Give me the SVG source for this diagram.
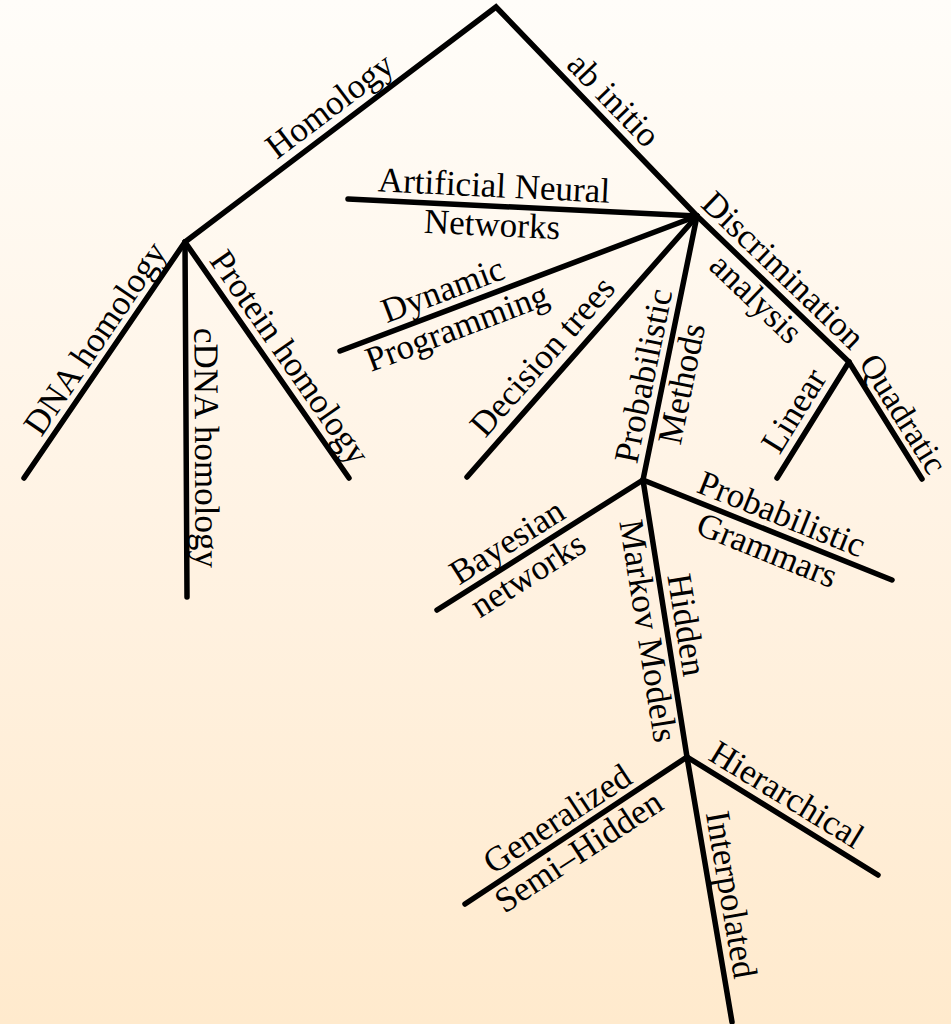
<svg xmlns="http://www.w3.org/2000/svg" width="951" height="1024" viewBox="0 0 951 1024">
<defs>
<linearGradient id="bg" x1="0" y1="0" x2="0" y2="1">
<stop offset="0" stop-color="#fffdf9"/>
<stop offset="0.5" stop-color="#fff3e4"/>
<stop offset="1" stop-color="#ffeacd"/>
</linearGradient>
<style>
.e{stroke:#000;stroke-width:5.5;fill:none;stroke-linecap:round;stroke-linejoin:miter}
text{font-family:"Liberation Serif","Times New Roman",serif;font-size:35px;fill:#000;text-anchor:middle}
</style>
</defs>
<rect width="951" height="1024" fill="url(#bg)"/>
<g id="connectors">
<path class="e" d="M185,242 L496,7 L697,216"/>
<line class="e" x1="348" y1="199" x2="697" y2="216"/>
<line class="e" x1="340" y1="351" x2="697" y2="216"/>
<line class="e" x1="467" y1="477" x2="697" y2="216"/>
<line class="e" x1="643" y1="480" x2="697" y2="216"/>
<line class="e" x1="697" y1="216" x2="849" y2="362"/>
<line class="e" x1="849" y1="362" x2="777" y2="478"/>
<line class="e" x1="849" y1="362" x2="922" y2="479"/>
<line class="e" x1="185" y1="242" x2="24" y2="478"/>
<line class="e" x1="185" y1="242" x2="187" y2="597"/>
<line class="e" x1="185" y1="242" x2="349" y2="478"/>
<line class="e" x1="643" y1="480" x2="437" y2="610"/>
<line class="e" x1="643" y1="480" x2="892" y2="580"/>
<line class="e" x1="643" y1="480" x2="687" y2="757"/>
<line class="e" x1="687" y1="757" x2="878" y2="875"/>
<line class="e" x1="687" y1="757" x2="465" y2="904"/>
<line class="e" x1="687" y1="757" x2="732" y2="1022"/>
</g>
<g id="homology"><text transform="translate(342,122) rotate(-37.1)" y="-9">Homology</text></g>
<g id="ab-initio"><text transform="translate(599,114) rotate(46)" y="-9">ab initio</text></g>
<g id="ann"><g transform="translate(493,206) rotate(2.8)"><text y="-9">Artificial Neural</text><text y="30">Networks</text></g></g>
<g id="dp"><g transform="translate(450,309) rotate(-20.7)"><text y="-9">Dynamic</text><text y="31">Programming</text></g></g>
<g id="decision-trees"><text transform="translate(560,372) rotate(-48.6)" y="-12">Decision trees</text></g>
<g id="probabilistic-methods"><g transform="translate(663.5,380) rotate(-78.4)"><text y="-9">Probabilistic</text><text y="30">Methods</text></g></g>
<g id="discrimination"><g transform="translate(769,285) rotate(43.8)"><text y="-9">Discrimination</text><text y="30">analysis</text></g></g>
<g id="linear"><text transform="translate(812,422) rotate(-58.2)" y="-10">Linear</text></g>
<g id="quadratic"><text transform="translate(887,424) rotate(58)" y="-8" style="font-size:34px">Quadratic</text></g>
<g id="dna-homology"><text transform="translate(112,350) rotate(-55.7)" y="-9">DNA homology</text></g>
<g id="cdna-homology"><text transform="translate(186,448) rotate(89.7)" y="-9">cDNA homology</text></g>
<g id="protein-homology"><text transform="translate(273,369) rotate(55.2)" y="-9">Protein homology</text></g>
<g id="bayesian"><g transform="translate(518,559) rotate(-32.3)"><text y="-9">Bayesian</text><text y="30">networks</text></g></g>
<g id="grammars"><g transform="translate(774,533) rotate(21.9)"><text y="-9">Probabilistic</text><text y="30">Grammars</text></g></g>
<g id="hmm"><g transform="translate(666.5,628) rotate(81)"><text y="-9">Hidden</text><text y="30">Markov Models</text></g></g>
<g id="hierarchical"><text transform="translate(776,812) rotate(31.5)" y="-9">Hierarchical</text></g>
<g id="generalized"><g transform="translate(568.5,836) rotate(-33.3)"><text y="-9">Generalized</text><text y="30">Semi–Hidden</text></g></g>
<g id="interpolated"><text transform="translate(711,898) rotate(80.3)" y="-9">Interpolated</text></g>
</svg>
